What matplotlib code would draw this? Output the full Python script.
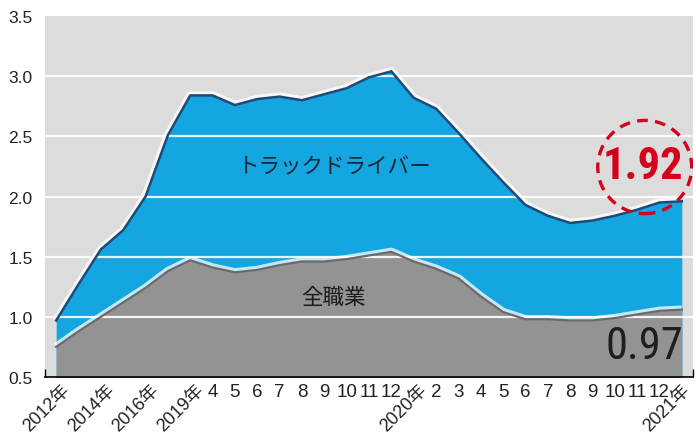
import matplotlib
matplotlib.use("Agg")
import matplotlib.pyplot as plt
from matplotlib.patches import Ellipse
from matplotlib import font_manager as fm
from matplotlib.transforms import ScaledTranslation

# ---- data ----
x_labels = ['2012年', '', '2014年', '', '2016年', '', '2019年',
            '4', '5', '6', '7', '8', '9', '10', '11', '12',
            '2020年', '2', '3', '4', '5', '6', '7', '8', '9', '10', '11', '12',
            '2021年']
truck = [0.97, 1.27, 1.56, 1.72, 2.00, 2.51, 2.84, 2.84, 2.76, 2.81, 2.83, 2.80,
         2.85, 2.90, 2.99, 3.04, 2.82, 2.73, 2.53, 2.32, 2.12, 1.93, 1.84, 1.78,
         1.80, 1.84, 1.89, 1.95, 1.96]
all_jobs = [0.75, 0.88, 1.00, 1.12, 1.24, 1.38, 1.47, 1.41, 1.37, 1.39, 1.43, 1.46,
            1.46, 1.48, 1.51, 1.54, 1.46, 1.40, 1.32, 1.17, 1.04, 0.98, 0.98, 0.97,
            0.97, 0.99, 1.02, 1.05, 1.06]
y_ticks = [0.5, 1.0, 1.5, 2.0, 2.5, 3.0, 3.5]
truck_label = 'トラックドライバー'
all_label = '全職業'
truck_callout = '1.92'
all_callout = '0.97'


def has_font(name):
    try:
        fm.findfont(fm.FontProperties(family=name), fallback_to_default=False)
        return True
    except Exception:
        return False


base = 'Liberation Sans' if has_font('Liberation Sans') else 'DejaVu Sans'

# try to find a condensed face
narrow_props = None
for cand in ['Liberation Sans Narrow', 'DejaVu Sans Condensed', 'Roboto Condensed',
             'Open Sans Condensed', 'Noto Sans Condensed']:
    if has_font(cand):
        narrow_props = dict(family=[cand, base])
        break
if narrow_props is None:
    for famname in ['DejaVu Sans', 'Noto Sans', 'Open Sans', 'Roboto']:
        try:
            path = fm.findfont(fm.FontProperties(family=famname, stretch='condensed'),
                               fallback_to_default=False)
            if 'ondensed' in path or 'arrow' in path:
                narrow_props = dict(family=[famname], stretch='condensed')
                break
        except Exception:
            pass
if narrow_props is None:
    narrow_props = dict(family=[base])
    callout_size = 28
else:
    callout_size = 32

cjk = 'Noto Sans CJK JP'
fam = [base, cjk, 'DejaVu Sans']
plt.rcParams['font.family'] = fam

W, H = 696, 439
fig = plt.figure(figsize=(W / 100, H / 100), dpi=100)
fig.patch.set_facecolor('white')
ax = fig.add_axes([45 / W, (H - 378) / H, (693 - 45) / W, (378 - 17) / H])
ax.set_facecolor('#dcdcdc')

x = list(range(len(truck)))
n = len(x)
ax.set_xlim(-0.5, n - 0.5)
ax.set_ylim(0.5, 3.5)

blue = '#14a6e1'
grey = '#939393'

# white glows (drawn beneath the fills so only the upper side shows)
ax.plot(x, truck, color='white', lw=6, alpha=0.8, zorder=1.5,
        solid_capstyle='butt')
ax.fill_between(x, truck, 0.5, color=blue, zorder=2, lw=0)
ax.plot(x, all_jobs, color='white', lw=6, alpha=0.75, zorder=2.5,
        solid_capstyle='butt')
ax.fill_between(x, all_jobs, 0.5, color=grey, zorder=3, lw=0)

# grid lines on top of fills
for v in y_ticks[1:-1]:
    ax.axhline(v, color='white', lw=1.6, alpha=0.9, zorder=4)

# lines
ax.plot(x, truck, color='#1d4a78', lw=1.8, zorder=6)
ax.plot(x, all_jobs, color='#6a6a6a', lw=1.6, zorder=5)

# spines
for s in ['left', 'right', 'top']:
    ax.spines[s].set_visible(False)
ax.spines['bottom'].set_color('black')
ax.spines['bottom'].set_linewidth(1.2)
ax.spines['bottom'].set_zorder(7)

# y ticks
ax.set_yticks(y_ticks)
ax.set_yticklabels([f'{v:.1f}' for v in y_ticks], fontsize=12.5, color='#222222')
ax.tick_params(axis='y', length=0, pad=9)

# x ticks: boundaries as minor ticks, month labels at points
ax.set_xticks([i - 0.5 for i in range(n + 1)], minor=True)
ax.set_xticks(x)
ax.set_xticklabels([('' if '年' in t else t) for t in x_labels], fontsize=13.5,
                   color='#222222')
ax.tick_params(axis='x', which='major', length=0, pad=4)
ax.tick_params(axis='x', which='minor', direction='in', length=6, width=1,
               color='black', top=False)

# year labels, rotated
for i, t in enumerate(x_labels):
    if '年' in t:
        dx = 17 if i < n - 1 else 12
        off = ScaledTranslation(dx / 100, -4 / 100, fig.dpi_scale_trans)
        ax.text(i, 0, t, transform=ax.get_xaxis_transform() + off,
                rotation=45, ha='right', va='top', fontsize=13, color='#222222',
                family=fam)

# annotations
ax.text(12.48, 2.25, truck_label, fontsize=15.5, color='#1b2633',
        ha='center', va='center', family=[cjk], zorder=8)
ax.text(12.39, 1.167, all_label, fontsize=15.5, color='#1b1b1b',
        ha='center', va='center', family=[cjk], zorder=8)

last = n - 1
ax.text(last - 1.75, truck[-1] + 0.29, truck_callout, fontsize=callout_size,
        fontweight='bold', color='#d6001c', ha='center', va='center',
        zorder=9, **narrow_props)
circ = Ellipse((last - 1.66, truck[-1] + 0.285), width=94 / 22.36, height=93 / 120,
               fill=False, edgecolor='#d6001c', lw=2.4, linestyle=(0, (3.2, 2.2)),
               zorder=9)
ax.add_patch(circ)
ax.text(last - 1.66, all_jobs[-1] - 0.30, all_callout, fontsize=callout_size,
        color='#1e1e1e', ha='center', va='center', zorder=9, **narrow_props)

fig.savefig('out.png', dpi=100)
